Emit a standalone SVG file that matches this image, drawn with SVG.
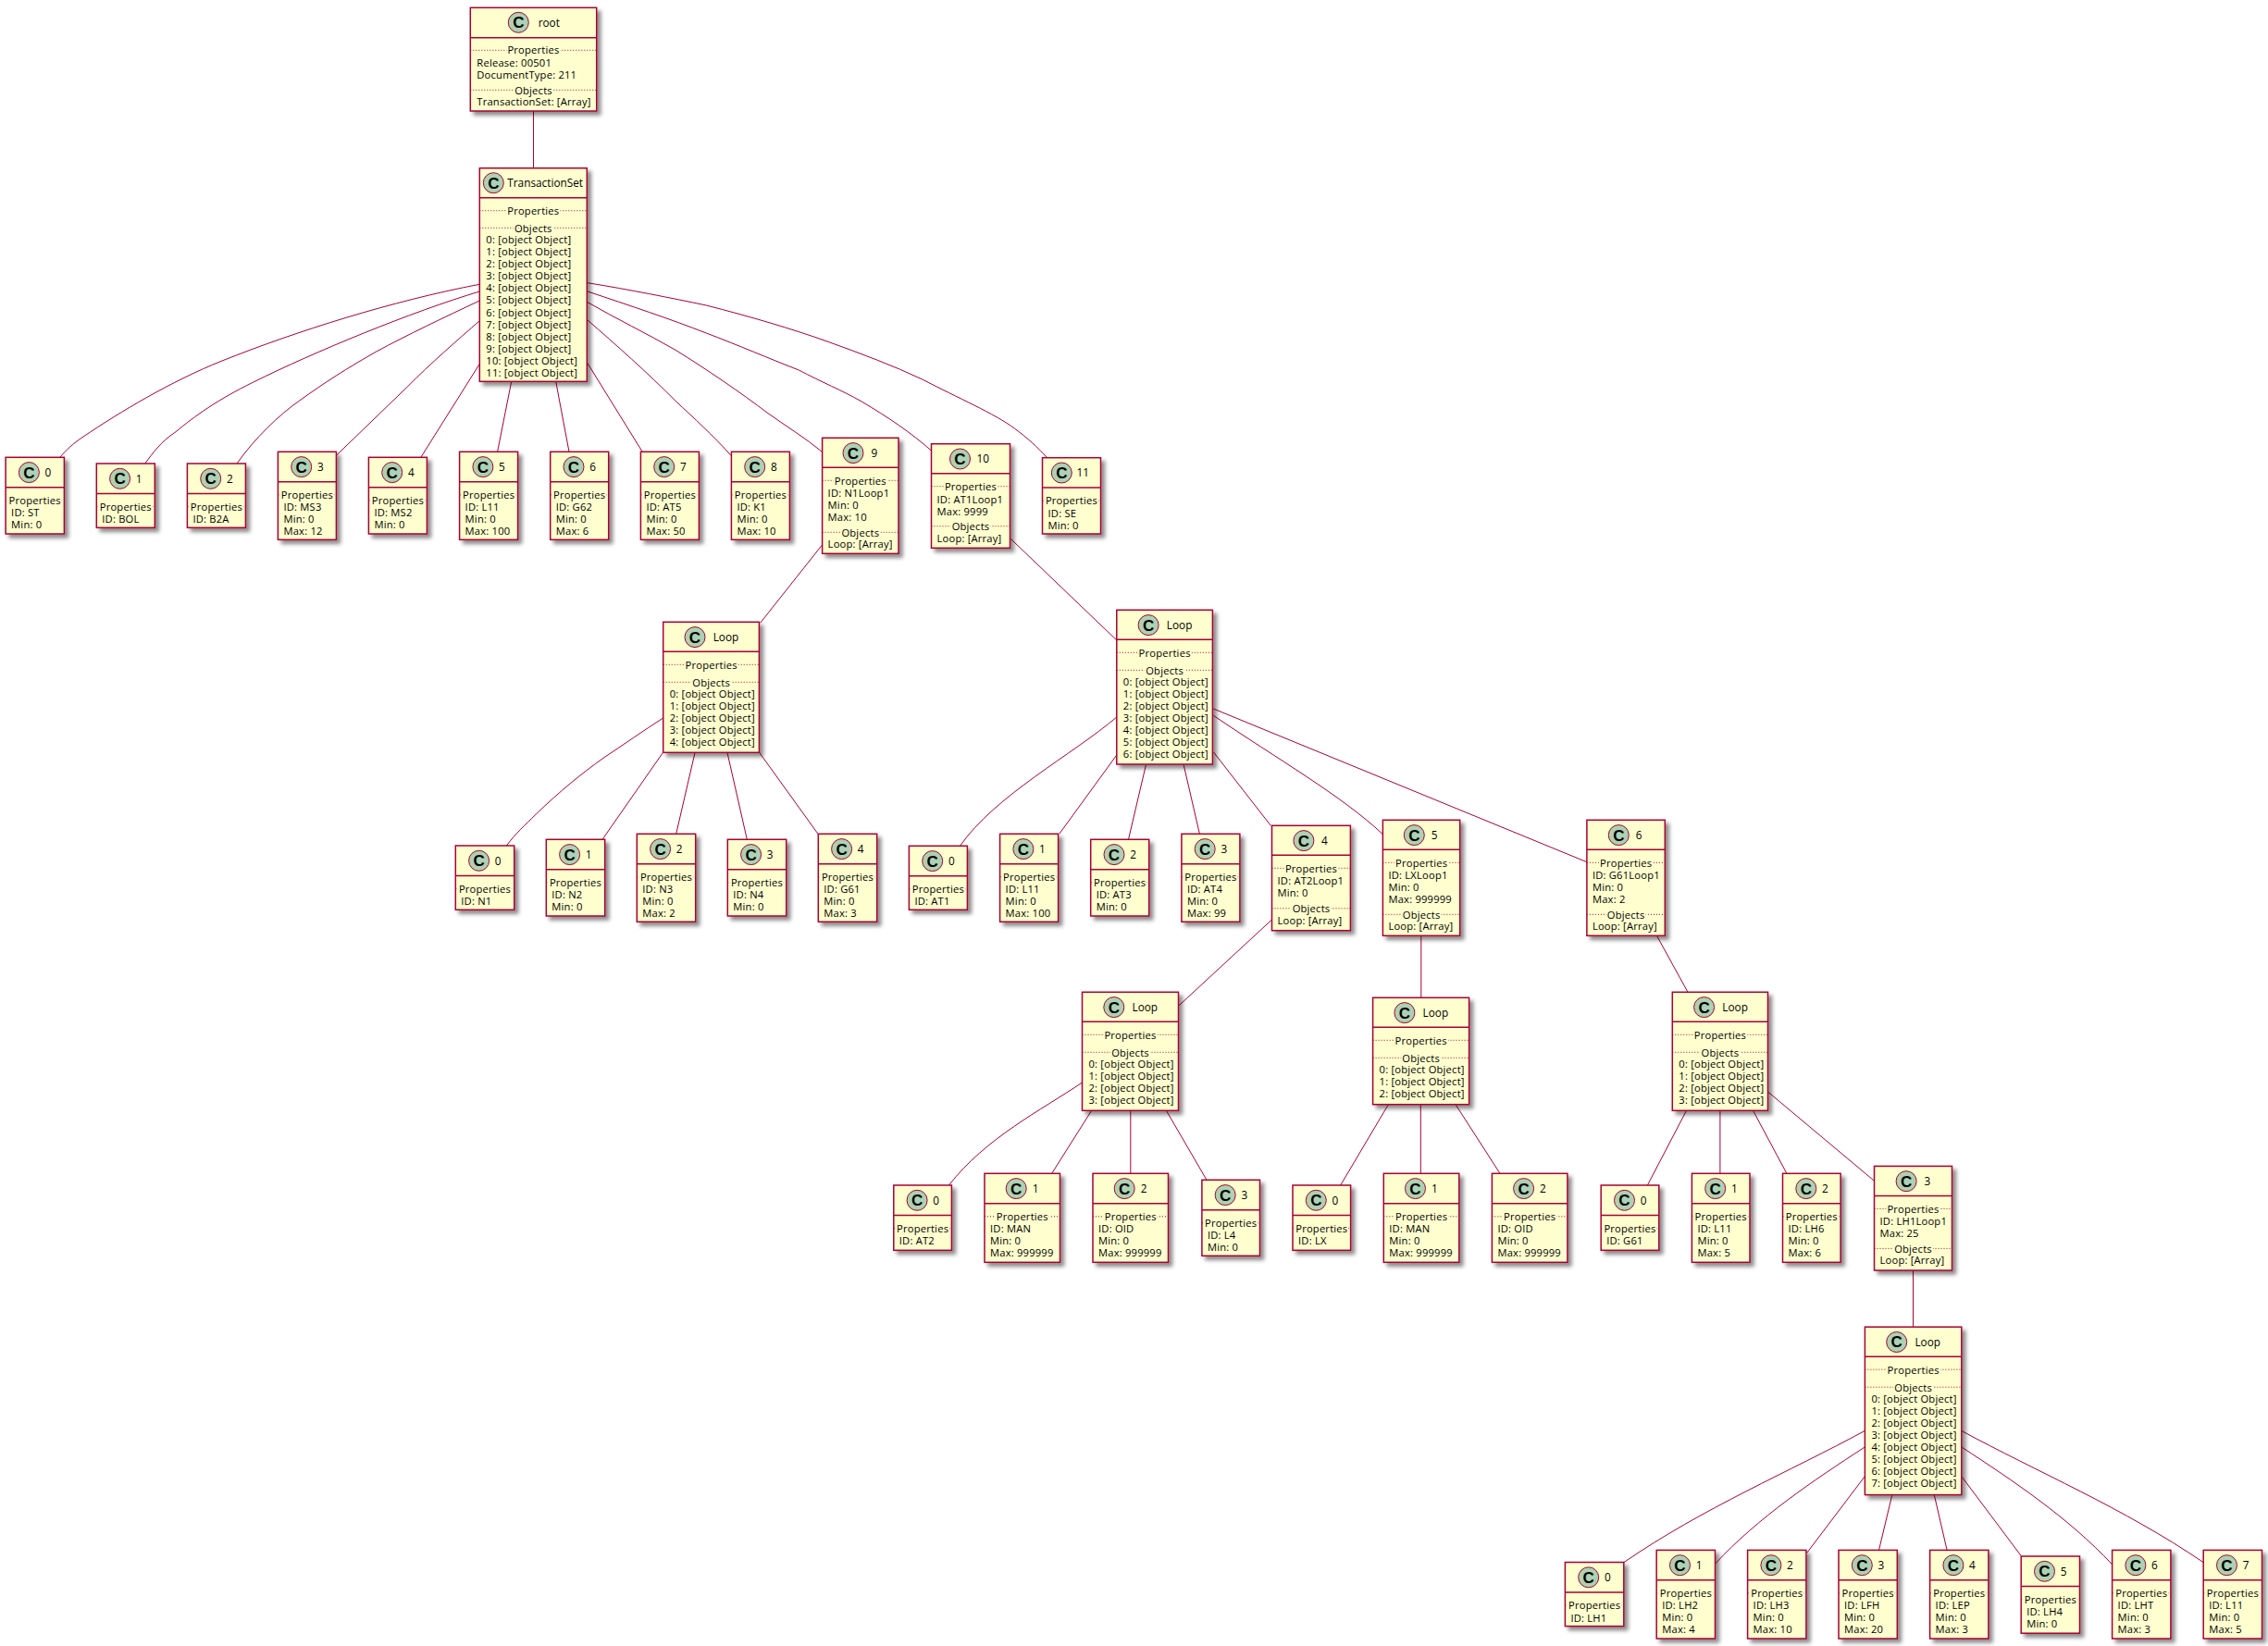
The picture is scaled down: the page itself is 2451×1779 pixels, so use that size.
<svg xmlns="http://www.w3.org/2000/svg" width="2451" height="1779" viewBox="0 0 2451 1779">
<style>
text{font-family:"Open Sans","DejaVu Sans",sans-serif;fill:#000;font-size:11.2px;letter-spacing:.2px}
.b{fill:#FEFECE;stroke:#A80036;stroke-width:1.5;filter:url(#sh)}
.h{stroke:#A80036;stroke-width:1.5}
.p{stroke:#A80036;stroke-width:1;stroke-dasharray:1 2}
.s{fill:#ADD1B2;stroke:#A80036;stroke-width:1}
.c{font-family:"Liberation Sans",sans-serif;font-weight:bold;font-size:17px;text-anchor:middle;letter-spacing:0}
.t{font-size:11.8px;letter-spacing:0}
.m{text-anchor:middle;stroke:#FEFECE;stroke-width:4px;paint-order:stroke}
#edges path{fill:none;stroke:#A80036;stroke-width:1}
</style>
<defs><filter id="sh" x="-20%" y="-20%" width="140%" height="140%"><feDropShadow dx="4" dy="4" stdDeviation="2" flood-color="#000" flood-opacity="0.45"/></filter></defs>
<g id="edges">
<path d="M576.5,120V182"/>
<path d="M518.3,307.3C425,325 320,358 240,390C185,412 130,445 90,472C78,480 72,486 65,494"/>
<path d="M518.3,315C445,337 340,380 273.3,413.3C235,432 210,450 190,466.7C173,478 165,490 156.7,501"/>
<path d="M518.3,325C480,343 440,362 406.7,380C375,398 350,414 323.3,433.3C302,448 275,474 256,501"/>
<path d="M518.3,346.7C495,367 465,393 440,418.3L364,491.7"/>
<path d="M518.3,393.3L455,494"/>
<path d="M552.7,412.3L537.6,488.3"/>
<path d="M600.7,412.3L615,488.3"/>
<path d="M635,392.7L694,488"/>
<path d="M635,346C665,372 700,403 730,433.3C750,452 770,470 790,492.3"/>
<path d="M635,326.7C665,344 700,361 730,378.3C765,400 800,424 830,446.7C850,461 870,473 888.3,488.3"/>
<path d="M635,315C680,330 725,345 763.3,360C800,374 830,387 863.3,400C888,413 910,422 930,433.3C960,451 985,468 1006,486.7"/>
<path d="M635,305.7C680,313 725,322 763.3,330C810,342 855,355 896.7,370C930,382 965,395 996.7,410C1035,430 1075,447 1096.7,463.3C1110,473 1122,484 1131,494"/>
<path d="M888.2,589.3L821.6,673.3"/>
<path d="M1092.2,582.3L1206.5,691.7"/>
<path d="M716.7,776C695,790 675,804 652,819.3C630,835 605,855 579.3,880C567,892 558,900 547.3,914"/>
<path d="M716.7,813L651,907.3"/>
<path d="M751,813.5L730.7,901.3"/>
<path d="M786,813.5L807.3,907.3"/>
<path d="M820.4,813L884,901.3"/>
<path d="M1206.8,775C1160,815 1075,860 1037.5,914.3"/>
<path d="M1206.8,816L1144.8,901.3"/>
<path d="M1238.4,826.7L1219.5,907.3"/>
<path d="M1279.2,826.7L1296.4,901.3"/>
<path d="M1311.3,812.7L1373.3,892.3"/>
<path d="M1311.3,773.3C1380,820 1450,860 1494.4,901.7"/>
<path d="M1311.3,766L1714.9,931.7"/>
<path d="M1374.5,994L1273.5,1087.3"/>
<path d="M1535.8,1011V1078"/>
<path d="M1790.7,1011.7L1824,1072.3"/>
<path d="M1169.5,1170C1125,1200 1065,1230 1025.5,1281"/>
<path d="M1179.6,1200.3L1136.7,1268.3"/>
<path d="M1221.8,1200V1268.3"/>
<path d="M1260.4,1200.3L1304,1275.3"/>
<path d="M1500.4,1193.7L1448.7,1281"/>
<path d="M1535.3,1193.7V1268.3"/>
<path d="M1573,1193.7L1621,1268.3"/>
<path d="M1822.5,1200.3L1780.4,1281"/>
<path d="M1858.9,1200V1268.3"/>
<path d="M1894.5,1200.3L1930.9,1268.3"/>
<path d="M1910.5,1180L2025.5,1276.3"/>
<path d="M2067.5,1373V1434.2"/>
<path d="M2015.1,1546.5C1935,1590 1840,1630 1755.1,1688.5"/>
<path d="M2015.1,1564.1C1960,1600 1900,1640 1853.5,1690.2"/>
<path d="M2015.1,1595.9L1952.9,1678.1"/>
<path d="M2044.8,1615.6L2030.5,1675.4"/>
<path d="M2090.3,1615.6L2104.1,1675.4"/>
<path d="M2120,1595.9L2184.2,1681.6"/>
<path d="M2120,1564.1C2175,1600 2235,1640 2282.6,1690.9"/>
<path d="M2120,1546.5C2200,1590 2295,1630 2381,1688.5"/>
</g>
<g id="root" transform="translate(508.3,8.3)"><rect class="b" width="136.4" height="111.7"/><line class="h" x2="136.4" y1="32.4" y2="32.4"/><circle class="s" cx="52" cy="16" r="11"/><text class="c" x="52" y="22">C</text><text class="t" x="73.4" y="20.4">root</text><line class="p" x2="136.4" y1="46" y2="46"/><text class="m" x="68.2" y="50">Properties</text><text x="7" y="64">Release: 00501</text><text x="7" y="77">DocumentType: 211</text><line class="p" x2="136.4" y1="89" y2="89"/><text class="m" x="68.2" y="93.5">Objects</text><text x="7" y="106">TransactionSet: [Array]</text></g>
<g id="transactionset" transform="translate(518.3,181.7)"><rect class="b" width="116" height="230.6"/><line class="h" x2="116" y1="32" y2="32"/><circle class="s" cx="15" cy="16" r="11"/><text class="c" x="15" y="22">C</text><text class="t" x="30" y="20.4">TransactionSet</text><line class="p" x2="116" y1="46" y2="46"/><text class="m" x="58" y="50.5">Properties</text><line class="p" x2="116" y1="64.6" y2="64.6"/><text class="m" x="58" y="69">Objects</text><text x="7" y="81.6">0: [object Object]</text><text x="7" y="94.6">1: [object Object]</text><text x="7" y="107.7">2: [object Object]</text><text x="7" y="120.7">3: [object Object]</text><text x="7" y="133.8">4: [object Object]</text><text x="7" y="146.8">5: [object Object]</text><text x="7" y="159.9">6: [object Object]</text><text x="7" y="172.9">7: [object Object]</text><text x="7" y="186">8: [object Object]</text><text x="7" y="199">9: [object Object]</text><text x="7" y="212.1">10: [object Object]</text><text x="7" y="225.1">11: [object Object]</text></g>
<g id="t0" transform="translate(6.1,494.3)"><rect class="b" width="63.3" height="82.7"/><line class="h" x2="63.3" y1="32.4" y2="32.4"/><circle class="s" cx="25.3" cy="16.3" r="11"/><text class="c" x="25.3" y="22.3">C</text><text class="t" x="42.5" y="20.5">0</text><line class="p" x2="63.3" y1="46.5" y2="46.5"/><text class="m" x="31.6" y="50.7">Properties</text><text x="6" y="64">ID: ST</text><text x="6" y="77">Min: 0</text></g>
<g id="t1" transform="translate(104.3,501)"><rect class="b" width="63" height="69.3"/><line class="h" x2="63" y1="32.4" y2="32.4"/><circle class="s" cx="25.3" cy="16.3" r="11"/><text class="c" x="25.3" y="22.3">C</text><text class="t" x="42.5" y="20.5">1</text><line class="p" x2="63" y1="46.5" y2="46.5"/><text class="m" x="31.5" y="50.7">Properties</text><text x="6" y="64">ID: BOL</text></g>
<g id="t2" transform="translate(202.4,501)"><rect class="b" width="63" height="69.3"/><line class="h" x2="63" y1="32.4" y2="32.4"/><circle class="s" cx="25.3" cy="16.3" r="11"/><text class="c" x="25.3" y="22.3">C</text><text class="t" x="42.5" y="20.5">2</text><line class="p" x2="63" y1="46.5" y2="46.5"/><text class="m" x="31.5" y="50.7">Properties</text><text x="6" y="64">ID: B2A</text></g>
<g id="t3" transform="translate(300.4,488.3)"><rect class="b" width="63" height="95"/><line class="h" x2="63" y1="32.4" y2="32.4"/><circle class="s" cx="25.3" cy="16.3" r="11"/><text class="c" x="25.3" y="22.3">C</text><text class="t" x="42.5" y="20.5">3</text><line class="p" x2="63" y1="46.5" y2="46.5"/><text class="m" x="31.5" y="50.7">Properties</text><text x="6" y="64">ID: MS3</text><text x="6" y="77">Min: 0</text><text x="6" y="90">Max: 12</text></g>
<g id="t4" transform="translate(398.4,494.3)"><rect class="b" width="63" height="82.7"/><line class="h" x2="63" y1="32.4" y2="32.4"/><circle class="s" cx="25.3" cy="16.3" r="11"/><text class="c" x="25.3" y="22.3">C</text><text class="t" x="42.5" y="20.5">4</text><line class="p" x2="63" y1="46.5" y2="46.5"/><text class="m" x="31.5" y="50.7">Properties</text><text x="6" y="64">ID: MS2</text><text x="6" y="77">Min: 0</text></g>
<g id="t5" transform="translate(496.6,488.3)"><rect class="b" width="63" height="95"/><line class="h" x2="63" y1="32.4" y2="32.4"/><circle class="s" cx="25.3" cy="16.3" r="11"/><text class="c" x="25.3" y="22.3">C</text><text class="t" x="42.5" y="20.5">5</text><line class="p" x2="63" y1="46.5" y2="46.5"/><text class="m" x="31.5" y="50.7">Properties</text><text x="6" y="64">ID: L11</text><text x="6" y="77">Min: 0</text><text x="6" y="90">Max: 100</text></g>
<g id="t6" transform="translate(594.7,488.3)"><rect class="b" width="63" height="95"/><line class="h" x2="63" y1="32.4" y2="32.4"/><circle class="s" cx="25.3" cy="16.3" r="11"/><text class="c" x="25.3" y="22.3">C</text><text class="t" x="42.5" y="20.5">6</text><line class="p" x2="63" y1="46.5" y2="46.5"/><text class="m" x="31.5" y="50.7">Properties</text><text x="6" y="64">ID: G62</text><text x="6" y="77">Min: 0</text><text x="6" y="90">Max: 6</text></g>
<g id="t7" transform="translate(692.4,488.3)"><rect class="b" width="63" height="95"/><line class="h" x2="63" y1="32.4" y2="32.4"/><circle class="s" cx="25.3" cy="16.3" r="11"/><text class="c" x="25.3" y="22.3">C</text><text class="t" x="42.5" y="20.5">7</text><line class="p" x2="63" y1="46.5" y2="46.5"/><text class="m" x="31.5" y="50.7">Properties</text><text x="6" y="64">ID: AT5</text><text x="6" y="77">Min: 0</text><text x="6" y="90">Max: 50</text></g>
<g id="t8" transform="translate(790.4,488.3)"><rect class="b" width="63" height="95"/><line class="h" x2="63" y1="32.4" y2="32.4"/><circle class="s" cx="25.3" cy="16.3" r="11"/><text class="c" x="25.3" y="22.3">C</text><text class="t" x="42.5" y="20.5">8</text><line class="p" x2="63" y1="46.5" y2="46.5"/><text class="m" x="31.5" y="50.7">Properties</text><text x="6" y="64">ID: K1</text><text x="6" y="77">Min: 0</text><text x="6" y="90">Max: 10</text></g>
<g id="t9" transform="translate(888.6,473.3)"><rect class="b" width="82.4" height="125"/><line class="h" x2="82.4" y1="32" y2="32"/><circle class="s" cx="33.4" cy="16.3" r="11"/><text class="c" x="33.4" y="22.3">C</text><text class="t" x="53" y="20.5">9</text><line class="p" x2="82.4" y1="46" y2="46"/><text class="m" x="41.2" y="50.5">Properties</text><text x="6" y="64">ID: N1Loop1</text><text x="6" y="77">Min: 0</text><text x="6" y="90">Max: 10</text><line class="p" x2="82.4" y1="102" y2="102"/><text class="m" x="41.2" y="106.5">Objects</text><text x="6" y="119">Loop: [Array]</text></g>
<g id="t10" transform="translate(1006.5,479.7)"><rect class="b" width="85" height="112.6"/><line class="h" x2="85" y1="32" y2="32"/><circle class="s" cx="31" cy="16.3" r="11"/><text class="c" x="31" y="22.3">C</text><text class="t" x="49" y="20.5">10</text><line class="p" x2="85" y1="46" y2="46"/><text class="m" x="42.5" y="50.5">Properties</text><text x="6" y="64">ID: AT1Loop1</text><text x="6" y="77">Max: 9999</text><line class="p" x2="85" y1="89" y2="89"/><text class="m" x="42.5" y="93.5">Objects</text><text x="6" y="106">Loop: [Array]</text></g>
<g id="t11" transform="translate(1126.5,494.7)"><rect class="b" width="63" height="82.3"/><line class="h" x2="63" y1="32.4" y2="32.4"/><circle class="s" cx="20.8" cy="16.3" r="11"/><text class="c" x="20.8" y="22.3">C</text><text class="t" x="37" y="20.5">11</text><line class="p" x2="63" y1="46.5" y2="46.5"/><text class="m" x="31.5" y="50.7">Properties</text><text x="6" y="64">ID: SE</text><text x="6" y="77">Min: 0</text></g>
<g id="loopA" transform="translate(716.7,672.3)"><rect class="b" width="103.7" height="141"/><line class="h" x2="103.7" y1="32" y2="32"/><circle class="s" cx="34.3" cy="16.3" r="11"/><text class="c" x="34.3" y="22.3">C</text><text class="t" x="54" y="20.5">Loop</text><line class="p" x2="103.7" y1="46" y2="46"/><text class="m" x="51.9" y="50.5">Properties</text><line class="p" x2="103.7" y1="65" y2="65"/><text class="m" x="51.9" y="69.5">Objects</text><text x="7" y="82">0: [object Object]</text><text x="7" y="95">1: [object Object]</text><text x="7" y="108">2: [object Object]</text><text x="7" y="121">3: [object Object]</text><text x="7" y="134">4: [object Object]</text></g>
<g id="a0" transform="translate(492.3,914)"><rect class="b" width="63.4" height="69.3"/><line class="h" x2="63.4" y1="32.4" y2="32.4"/><circle class="s" cx="25.3" cy="16.3" r="11"/><text class="c" x="25.3" y="22.3">C</text><text class="t" x="42.5" y="20.5">0</text><line class="p" x2="63.4" y1="46.5" y2="46.5"/><text class="m" x="31.7" y="50.7">Properties</text><text x="6" y="64">ID: N1</text></g>
<g id="a1" transform="translate(590.3,907.3)"><rect class="b" width="63.4" height="82.7"/><line class="h" x2="63.4" y1="32.4" y2="32.4"/><circle class="s" cx="25.3" cy="16.3" r="11"/><text class="c" x="25.3" y="22.3">C</text><text class="t" x="42.5" y="20.5">1</text><line class="p" x2="63.4" y1="46.5" y2="46.5"/><text class="m" x="31.7" y="50.7">Properties</text><text x="6" y="64">ID: N2</text><text x="6" y="77">Min: 0</text></g>
<g id="a2" transform="translate(688.3,901.3)"><rect class="b" width="63.4" height="95"/><line class="h" x2="63.4" y1="32.4" y2="32.4"/><circle class="s" cx="25.3" cy="16.3" r="11"/><text class="c" x="25.3" y="22.3">C</text><text class="t" x="42.5" y="20.5">2</text><line class="p" x2="63.4" y1="46.5" y2="46.5"/><text class="m" x="31.7" y="50.7">Properties</text><text x="6" y="64">ID: N3</text><text x="6" y="77">Min: 0</text><text x="6" y="90">Max: 2</text></g>
<g id="a3" transform="translate(786.3,907.3)"><rect class="b" width="63.4" height="82.7"/><line class="h" x2="63.4" y1="32.4" y2="32.4"/><circle class="s" cx="25.3" cy="16.3" r="11"/><text class="c" x="25.3" y="22.3">C</text><text class="t" x="42.5" y="20.5">3</text><line class="p" x2="63.4" y1="46.5" y2="46.5"/><text class="m" x="31.7" y="50.7">Properties</text><text x="6" y="64">ID: N4</text><text x="6" y="77">Min: 0</text></g>
<g id="a4" transform="translate(884.3,901.3)"><rect class="b" width="63.4" height="95"/><line class="h" x2="63.4" y1="32.4" y2="32.4"/><circle class="s" cx="25.3" cy="16.3" r="11"/><text class="c" x="25.3" y="22.3">C</text><text class="t" x="42.5" y="20.5">4</text><line class="p" x2="63.4" y1="46.5" y2="46.5"/><text class="m" x="31.7" y="50.7">Properties</text><text x="6" y="64">ID: G61</text><text x="6" y="77">Min: 0</text><text x="6" y="90">Max: 3</text></g>
<g id="loopB" transform="translate(1206.8,659.3)"><rect class="b" width="103.6" height="166.7"/><line class="h" x2="103.6" y1="32" y2="32"/><circle class="s" cx="34.3" cy="16.3" r="11"/><text class="c" x="34.3" y="22.3">C</text><text class="t" x="54" y="20.5">Loop</text><line class="p" x2="103.6" y1="46" y2="46"/><text class="m" x="51.8" y="50.5">Properties</text><line class="p" x2="103.6" y1="65" y2="65"/><text class="m" x="51.8" y="69.5">Objects</text><text x="7" y="82">0: [object Object]</text><text x="7" y="95">1: [object Object]</text><text x="7" y="108">2: [object Object]</text><text x="7" y="121">3: [object Object]</text><text x="7" y="134">4: [object Object]</text><text x="7" y="147">5: [object Object]</text><text x="7" y="160">6: [object Object]</text></g>
<g id="b0" transform="translate(982.4,914.3)"><rect class="b" width="63" height="69"/><line class="h" x2="63" y1="32.4" y2="32.4"/><circle class="s" cx="25.3" cy="16.3" r="11"/><text class="c" x="25.3" y="22.3">C</text><text class="t" x="42.5" y="20.5">0</text><line class="p" x2="63" y1="46.5" y2="46.5"/><text class="m" x="31.5" y="50.7">Properties</text><text x="6" y="64">ID: AT1</text></g>
<g id="b1" transform="translate(1080.6,901.3)"><rect class="b" width="63" height="95"/><line class="h" x2="63" y1="32.4" y2="32.4"/><circle class="s" cx="25.3" cy="16.3" r="11"/><text class="c" x="25.3" y="22.3">C</text><text class="t" x="42.5" y="20.5">1</text><line class="p" x2="63" y1="46.5" y2="46.5"/><text class="m" x="31.5" y="50.7">Properties</text><text x="6" y="64">ID: L11</text><text x="6" y="77">Min: 0</text><text x="6" y="90">Max: 100</text></g>
<g id="b2" transform="translate(1178.7,907.3)"><rect class="b" width="63" height="82.7"/><line class="h" x2="63" y1="32.4" y2="32.4"/><circle class="s" cx="25.3" cy="16.3" r="11"/><text class="c" x="25.3" y="22.3">C</text><text class="t" x="42.5" y="20.5">2</text><line class="p" x2="63" y1="46.5" y2="46.5"/><text class="m" x="31.5" y="50.7">Properties</text><text x="6" y="64">ID: AT3</text><text x="6" y="77">Min: 0</text></g>
<g id="b3" transform="translate(1276.9,901.3)"><rect class="b" width="63" height="95"/><line class="h" x2="63" y1="32.4" y2="32.4"/><circle class="s" cx="25.3" cy="16.3" r="11"/><text class="c" x="25.3" y="22.3">C</text><text class="t" x="42.5" y="20.5">3</text><line class="p" x2="63" y1="46.5" y2="46.5"/><text class="m" x="31.5" y="50.7">Properties</text><text x="6" y="64">ID: AT4</text><text x="6" y="77">Min: 0</text><text x="6" y="90">Max: 99</text></g>
<g id="b4" transform="translate(1374.5,892.3)"><rect class="b" width="84.9" height="113.4"/><line class="h" x2="84.9" y1="32" y2="32"/><circle class="s" cx="34.4" cy="16.3" r="11"/><text class="c" x="34.4" y="22.3">C</text><text class="t" x="53.4" y="20.5">4</text><line class="p" x2="84.9" y1="46" y2="46"/><text class="m" x="42.5" y="50.5">Properties</text><text x="6" y="64">ID: AT2Loop1</text><text x="6" y="77">Min: 0</text><line class="p" x2="84.9" y1="89.5" y2="89.5"/><text class="m" x="42.5" y="94">Objects</text><text x="6" y="106.5">Loop: [Array]</text></g>
<g id="b5" transform="translate(1494.4,886.3)"><rect class="b" width="83.3" height="125"/><line class="h" x2="83.3" y1="32" y2="32"/><circle class="s" cx="33.9" cy="16.3" r="11"/><text class="c" x="33.9" y="22.3">C</text><text class="t" x="52.3" y="20.5">5</text><line class="p" x2="83.3" y1="46" y2="46"/><text class="m" x="41.7" y="50.5">Properties</text><text x="6" y="64">ID: LXLoop1</text><text x="6" y="77">Min: 0</text><text x="6" y="90">Max: 999999</text><line class="p" x2="83.3" y1="102" y2="102"/><text class="m" x="41.7" y="106.5">Objects</text><text x="6" y="119">Loop: [Array]</text></g>
<g id="b6" transform="translate(1714.9,886.3)"><rect class="b" width="84.4" height="125"/><line class="h" x2="84.4" y1="32" y2="32"/><circle class="s" cx="34.4" cy="16.3" r="11"/><text class="c" x="34.4" y="22.3">C</text><text class="t" x="52.8" y="20.5">6</text><line class="p" x2="84.4" y1="46" y2="46"/><text class="m" x="42.2" y="50.5">Properties</text><text x="6" y="64">ID: G61Loop1</text><text x="6" y="77">Min: 0</text><text x="6" y="90">Max: 2</text><line class="p" x2="84.4" y1="102" y2="102"/><text class="m" x="42.2" y="106.5">Objects</text><text x="6" y="119">Loop: [Array]</text></g>
<g id="loopC" transform="translate(1169.5,1072.3)"><rect class="b" width="104" height="128"/><line class="h" x2="104" y1="32" y2="32"/><circle class="s" cx="34.3" cy="16.3" r="11"/><text class="c" x="34.3" y="22.3">C</text><text class="t" x="54" y="20.5">Loop</text><line class="p" x2="104" y1="46" y2="46"/><text class="m" x="52" y="50.5">Properties</text><line class="p" x2="104" y1="65" y2="65"/><text class="m" x="52" y="69.5">Objects</text><text x="7" y="82">0: [object Object]</text><text x="7" y="95">1: [object Object]</text><text x="7" y="108">2: [object Object]</text><text x="7" y="121">3: [object Object]</text></g>
<g id="c0" transform="translate(965.8,1281)"><rect class="b" width="62.6" height="70.3"/><line class="h" x2="62.6" y1="32.4" y2="32.4"/><circle class="s" cx="25.3" cy="16.3" r="11"/><text class="c" x="25.3" y="22.3">C</text><text class="t" x="42.5" y="20.5">0</text><line class="p" x2="62.6" y1="46.5" y2="46.5"/><text class="m" x="31.3" y="50.7">Properties</text><text x="6" y="64">ID: AT2</text></g>
<g id="c1" transform="translate(1064,1268.3)"><rect class="b" width="81.5" height="96"/><line class="h" x2="81.5" y1="32.4" y2="32.4"/><circle class="s" cx="34.2" cy="16.3" r="11"/><text class="c" x="34.2" y="22.3">C</text><text class="t" x="51.7" y="20.5">1</text><line class="p" x2="81.5" y1="46.5" y2="46.5"/><text class="m" x="40.8" y="50.7">Properties</text><text x="6" y="64">ID: MAN</text><text x="6" y="77">Min: 0</text><text x="6" y="90">Max: 999999</text></g>
<g id="c2" transform="translate(1181,1268.3)"><rect class="b" width="81.5" height="96"/><line class="h" x2="81.5" y1="32.4" y2="32.4"/><circle class="s" cx="34.2" cy="16.3" r="11"/><text class="c" x="34.2" y="22.3">C</text><text class="t" x="51.7" y="20.5">2</text><line class="p" x2="81.5" y1="46.5" y2="46.5"/><text class="m" x="40.8" y="50.7">Properties</text><text x="6" y="64">ID: OID</text><text x="6" y="77">Min: 0</text><text x="6" y="90">Max: 999999</text></g>
<g id="c3" transform="translate(1298.9,1275.3)"><rect class="b" width="62.6" height="82"/><line class="h" x2="62.6" y1="32.4" y2="32.4"/><circle class="s" cx="25.3" cy="16.3" r="11"/><text class="c" x="25.3" y="22.3">C</text><text class="t" x="42.5" y="20.5">3</text><line class="p" x2="62.6" y1="46.5" y2="46.5"/><text class="m" x="31.3" y="50.7">Properties</text><text x="6" y="64">ID: L4</text><text x="6" y="77">Min: 0</text></g>
<g id="loopD" transform="translate(1483.6,1078.3)"><rect class="b" width="104" height="115.4"/><line class="h" x2="104" y1="32" y2="32"/><circle class="s" cx="34.3" cy="16.3" r="11"/><text class="c" x="34.3" y="22.3">C</text><text class="t" x="54" y="20.5">Loop</text><line class="p" x2="104" y1="46" y2="46"/><text class="m" x="52" y="50.5">Properties</text><line class="p" x2="104" y1="65" y2="65"/><text class="m" x="52" y="69.5">Objects</text><text x="7" y="82">0: [object Object]</text><text x="7" y="95">1: [object Object]</text><text x="7" y="108">2: [object Object]</text></g>
<g id="d0" transform="translate(1397,1281)"><rect class="b" width="62.6" height="70.3"/><line class="h" x2="62.6" y1="32.4" y2="32.4"/><circle class="s" cx="25.3" cy="16.3" r="11"/><text class="c" x="25.3" y="22.3">C</text><text class="t" x="42.5" y="20.5">0</text><line class="p" x2="62.6" y1="46.5" y2="46.5"/><text class="m" x="31.3" y="50.7">Properties</text><text x="6" y="64">ID: LX</text></g>
<g id="d1" transform="translate(1495.3,1268.3)"><rect class="b" width="81.5" height="96"/><line class="h" x2="81.5" y1="32.4" y2="32.4"/><circle class="s" cx="34.2" cy="16.3" r="11"/><text class="c" x="34.2" y="22.3">C</text><text class="t" x="51.7" y="20.5">1</text><line class="p" x2="81.5" y1="46.5" y2="46.5"/><text class="m" x="40.8" y="50.7">Properties</text><text x="6" y="64">ID: MAN</text><text x="6" y="77">Min: 0</text><text x="6" y="90">Max: 999999</text></g>
<g id="d2" transform="translate(1612.4,1268.3)"><rect class="b" width="81.5" height="96"/><line class="h" x2="81.5" y1="32.4" y2="32.4"/><circle class="s" cx="34.2" cy="16.3" r="11"/><text class="c" x="34.2" y="22.3">C</text><text class="t" x="51.7" y="20.5">2</text><line class="p" x2="81.5" y1="46.5" y2="46.5"/><text class="m" x="40.8" y="50.7">Properties</text><text x="6" y="64">ID: OID</text><text x="6" y="77">Min: 0</text><text x="6" y="90">Max: 999999</text></g>
<g id="loopE" transform="translate(1807.3,1072.3)"><rect class="b" width="103.2" height="128"/><line class="h" x2="103.2" y1="32" y2="32"/><circle class="s" cx="34.3" cy="16.3" r="11"/><text class="c" x="34.3" y="22.3">C</text><text class="t" x="54" y="20.5">Loop</text><line class="p" x2="103.2" y1="46" y2="46"/><text class="m" x="51.6" y="50.5">Properties</text><line class="p" x2="103.2" y1="65" y2="65"/><text class="m" x="51.6" y="69.5">Objects</text><text x="7" y="82">0: [object Object]</text><text x="7" y="95">1: [object Object]</text><text x="7" y="108">2: [object Object]</text><text x="7" y="121">3: [object Object]</text></g>
<g id="e0" transform="translate(1730.2,1281)"><rect class="b" width="62.6" height="70.3"/><line class="h" x2="62.6" y1="32.4" y2="32.4"/><circle class="s" cx="25.3" cy="16.3" r="11"/><text class="c" x="25.3" y="22.3">C</text><text class="t" x="42.5" y="20.5">0</text><line class="p" x2="62.6" y1="46.5" y2="46.5"/><text class="m" x="31.3" y="50.7">Properties</text><text x="6" y="64">ID: G61</text></g>
<g id="e1" transform="translate(1828.4,1268.3)"><rect class="b" width="62.6" height="96"/><line class="h" x2="62.6" y1="32.4" y2="32.4"/><circle class="s" cx="25.3" cy="16.3" r="11"/><text class="c" x="25.3" y="22.3">C</text><text class="t" x="42.5" y="20.5">1</text><line class="p" x2="62.6" y1="46.5" y2="46.5"/><text class="m" x="31.3" y="50.7">Properties</text><text x="6" y="64">ID: L11</text><text x="6" y="77">Min: 0</text><text x="6" y="90">Max: 5</text></g>
<g id="e2" transform="translate(1926.5,1268.3)"><rect class="b" width="62.6" height="96"/><line class="h" x2="62.6" y1="32.4" y2="32.4"/><circle class="s" cx="25.3" cy="16.3" r="11"/><text class="c" x="25.3" y="22.3">C</text><text class="t" x="42.5" y="20.5">2</text><line class="p" x2="62.6" y1="46.5" y2="46.5"/><text class="m" x="31.3" y="50.7">Properties</text><text x="6" y="64">ID: LH6</text><text x="6" y="77">Min: 0</text><text x="6" y="90">Max: 6</text></g>
<g id="e3" transform="translate(2025.5,1260.4)"><rect class="b" width="84" height="112.6"/><line class="h" x2="84" y1="32" y2="32"/><circle class="s" cx="34.6" cy="16.3" r="11"/><text class="c" x="34.6" y="22.3">C</text><text class="t" x="53.9" y="20.5">3</text><line class="p" x2="84" y1="46" y2="46"/><text class="m" x="42" y="50.5">Properties</text><text x="6" y="64">ID: LH1Loop1</text><text x="6" y="77">Max: 25</text><line class="p" x2="84" y1="89" y2="89"/><text class="m" x="42" y="93.5">Objects</text><text x="6" y="106">Loop: [Array]</text></g>
<g id="loopF" transform="translate(2015.4,1434.2)"><rect class="b" width="104.4" height="181.4"/><line class="h" x2="104.4" y1="32" y2="32"/><circle class="s" cx="34.3" cy="16.3" r="11"/><text class="c" x="34.3" y="22.3">C</text><text class="t" x="54" y="20.5">Loop</text><line class="p" x2="104.4" y1="46" y2="46"/><text class="m" x="52.2" y="50.5">Properties</text><line class="p" x2="104.4" y1="65" y2="65"/><text class="m" x="52.2" y="69.5">Objects</text><text x="7" y="82">0: [object Object]</text><text x="7" y="95">1: [object Object]</text><text x="7" y="108">2: [object Object]</text><text x="7" y="121">3: [object Object]</text><text x="7" y="134">4: [object Object]</text><text x="7" y="147">5: [object Object]</text><text x="7" y="160">6: [object Object]</text><text x="7" y="173">7: [object Object]</text></g>
<g id="f0" transform="translate(1691.4,1688.5)"><rect class="b" width="63.4" height="69.1"/><line class="h" x2="63.4" y1="32.4" y2="32.4"/><circle class="s" cx="25.3" cy="16.3" r="11"/><text class="c" x="25.3" y="22.3">C</text><text class="t" x="42.5" y="20.5">0</text><line class="p" x2="63.4" y1="46.5" y2="46.5"/><text class="m" x="31.7" y="50.7">Properties</text><text x="6" y="64">ID: LH1</text></g>
<g id="f1" transform="translate(1790.2,1675.4)"><rect class="b" width="63.3" height="95.6"/><line class="h" x2="63.3" y1="32.4" y2="32.4"/><circle class="s" cx="25.3" cy="16.3" r="11"/><text class="c" x="25.3" y="22.3">C</text><text class="t" x="42.5" y="20.5">1</text><line class="p" x2="63.3" y1="46.5" y2="46.5"/><text class="m" x="31.7" y="50.7">Properties</text><text x="6" y="64">ID: LH2</text><text x="6" y="77">Min: 0</text><text x="6" y="90">Max: 4</text></g>
<g id="f2" transform="translate(1888.6,1675.4)"><rect class="b" width="63.3" height="95.6"/><line class="h" x2="63.3" y1="32.4" y2="32.4"/><circle class="s" cx="25.3" cy="16.3" r="11"/><text class="c" x="25.3" y="22.3">C</text><text class="t" x="42.5" y="20.5">2</text><line class="p" x2="63.3" y1="46.5" y2="46.5"/><text class="m" x="31.7" y="50.7">Properties</text><text x="6" y="64">ID: LH3</text><text x="6" y="77">Min: 0</text><text x="6" y="90">Max: 10</text></g>
<g id="f3" transform="translate(1987,1675.4)"><rect class="b" width="63.3" height="95.6"/><line class="h" x2="63.3" y1="32.4" y2="32.4"/><circle class="s" cx="25.3" cy="16.3" r="11"/><text class="c" x="25.3" y="22.3">C</text><text class="t" x="42.5" y="20.5">3</text><line class="p" x2="63.3" y1="46.5" y2="46.5"/><text class="m" x="31.7" y="50.7">Properties</text><text x="6" y="64">ID: LFH</text><text x="6" y="77">Min: 0</text><text x="6" y="90">Max: 20</text></g>
<g id="f4" transform="translate(2085.6,1675.4)"><rect class="b" width="63.3" height="95.6"/><line class="h" x2="63.3" y1="32.4" y2="32.4"/><circle class="s" cx="25.3" cy="16.3" r="11"/><text class="c" x="25.3" y="22.3">C</text><text class="t" x="42.5" y="20.5">4</text><line class="p" x2="63.3" y1="46.5" y2="46.5"/><text class="m" x="31.7" y="50.7">Properties</text><text x="6" y="64">ID: LEP</text><text x="6" y="77">Min: 0</text><text x="6" y="90">Max: 3</text></g>
<g id="f5" transform="translate(2184.2,1682)"><rect class="b" width="63.3" height="83.2"/><line class="h" x2="63.3" y1="32.4" y2="32.4"/><circle class="s" cx="25.3" cy="16.3" r="11"/><text class="c" x="25.3" y="22.3">C</text><text class="t" x="42.5" y="20.5">5</text><line class="p" x2="63.3" y1="46.5" y2="46.5"/><text class="m" x="31.7" y="50.7">Properties</text><text x="6" y="64">ID: LH4</text><text x="6" y="77">Min: 0</text></g>
<g id="f6" transform="translate(2282.6,1675.4)"><rect class="b" width="63.3" height="95.6"/><line class="h" x2="63.3" y1="32.4" y2="32.4"/><circle class="s" cx="25.3" cy="16.3" r="11"/><text class="c" x="25.3" y="22.3">C</text><text class="t" x="42.5" y="20.5">6</text><line class="p" x2="63.3" y1="46.5" y2="46.5"/><text class="m" x="31.7" y="50.7">Properties</text><text x="6" y="64">ID: LHT</text><text x="6" y="77">Min: 0</text><text x="6" y="90">Max: 3</text></g>
<g id="f7" transform="translate(2381.2,1675.4)"><rect class="b" width="63.3" height="95.6"/><line class="h" x2="63.3" y1="32.4" y2="32.4"/><circle class="s" cx="25.3" cy="16.3" r="11"/><text class="c" x="25.3" y="22.3">C</text><text class="t" x="42.5" y="20.5">7</text><line class="p" x2="63.3" y1="46.5" y2="46.5"/><text class="m" x="31.7" y="50.7">Properties</text><text x="6" y="64">ID: L11</text><text x="6" y="77">Min: 0</text><text x="6" y="90">Max: 5</text></g>
</svg>
